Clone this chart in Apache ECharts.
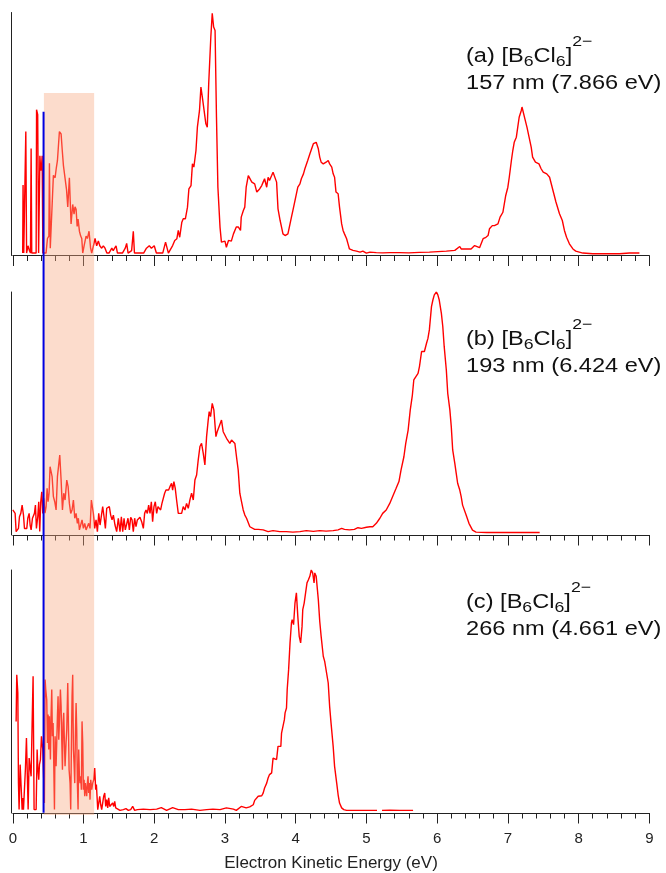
<!DOCTYPE html>
<html>
<head>
<meta charset="utf-8">
<script src="https://cdn.jsdelivr.net/npm/echarts@6/dist/echarts.min.js"></script>
<style>
  html, body { margin: 0; padding: 0; background: #fff; }
  #chart { width: 666px; height: 873px; }
</style>
</head>
<body>
<div id="chart"></div>
<script>
// [eKE (eV), intensity (% of panel max)]
const panelA = [[0.14,1],[0.145,29],[0.155,1],[0.175,1],[0.184,51],[0.195,1],[0.215,4],[0.235,2],[0.25,1],[0.259,44],[0.268,1],[0.33,1],[0.336,60],[0.352,58],[0.365,1],[0.383,41],[0.395,35],[0.405,36],[0.415,41],[0.425,1],[0.47,1],[0.49,7],[0.51,8],[0.518,38],[0.53,3],[0.55,3],[0.574,33],[0.598,32],[0.615,36],[0.631,39],[0.659,51],[0.683,50],[0.7,43],[0.716,37],[0.739,37],[0.76,27],[0.777,20],[0.8,32],[0.824,13],[0.847,21],[0.866,17],[0.88,20],[0.895,19],[0.91,12],[0.923,15],[0.942,10],[0.96,8],[0.975,7],[0.989,1],[1.008,4],[1.036,8],[1.055,7],[1.078,10],[1.1,3],[1.116,1],[1.14,4],[1.163,7],[1.186,4],[1.21,6],[1.23,4],[1.257,3],[1.28,4],[1.304,3],[1.33,1],[1.36,1],[1.4,3],[1.42,2],[1.44,3],[1.46,4],[1.48,1],[1.55,1],[1.59,3],[1.61,5],[1.63,1],[1.68,2],[1.704,10],[1.72,1],[1.85,1],[1.89,3],[1.93,4],[1.96,3],[2.0,4],[2.03,1],[2.08,1],[2.12,1],[2.16,5.5],[2.2,1],
  [2.222,0.7],[2.26,4.1],[2.29,6.2],[2.32,6.9],[2.34,10.3],[2.36,7.5],[2.39,13.7],[2.41,15.1],[2.44,15.1],[2.47,19.9],[2.49,27.4],[2.52,28.8],[2.54,37.7],[2.56,36.4],[2.59,43.2],[2.61,52.8],[2.64,59.7],[2.66,69.3],[2.68,65.2],[2.7,65.2],[2.73,54.2],[2.75,52.8],[2.77,70.7],[2.8,89.9],[2.82,99.7],[2.84,94],[2.86,92.6],[2.88,56.9],[2.9,28.1],[2.93,11.7],[2.95,5.5],[2.97,5.5],[3.0,5.9],[3.02,3.4],[3.05,6.2],[3.07,5.5],[3.09,5.9],[3.12,8.9],[3.14,8.2],[3.16,11.7],[3.19,11.7],[3.22,10.3],[3.23,15.8],[3.26,18.5],[3.28,19.9],[3.3,28.1],[3.33,32.9],[3.35,32.2],[3.38,30.2],[3.4,30.9],[3.42,29.5],[3.45,26.1],[3.47,25.4],[3.49,27.4],[3.52,28.8],[3.54,30.2],[3.56,31.6],[3.59,28.1],[3.61,32.2],[3.63,30.9],[3.66,32.9],[3.68,34.3],[3.7,33.6],[3.73,30.2],[3.75,19.2],[3.78,14.4],[3.8,11.7],[3.82,8.9],[3.85,8.2],[3.87,7.5],[3.89,8.9],[3.92,13],[3.94,15.8],[3.96,18.5],[3.99,22.6],[4.01,23.3],[4.03,28.1],[4.06,29.5],[4.08,31.6],[4.11,33.6],[4.13,35.7],[4.15,35],[4.17,39.1],[4.2,41.8],[4.22,42.5],[4.25,46],[4.27,46],[4.29,46.6],[4.32,43.9],[4.34,40.5],[4.36,38.4],[4.39,37.7],[4.41,37],[4.43,38.4],[4.46,39.1],[4.48,37.7],[4.51,36.4],[4.53,33.6],[4.55,32.2],[4.57,26.1],[4.6,25.4],[4.62,19.9],[4.65,13],[4.67,10.3],[4.69,8.9],[4.72,6.9],[4.74,4.8],[4.76,2.7],[4.81,2.1],[4.86,1.8],[4.91,1.4],[4.95,1.8],[5.0,1],[5.05,1.4],[5.14,1.2],[5.23,1.1],[5.33,1.2],[5.47,1.2],[5.6,1.1],[5.75,1.3],[5.89,1.4],[6.13,1.8],[6.25,2.1],[6.32,3.7],[6.34,2.7],[6.41,2.7],[6.48,2.7],[6.53,4.1],[6.55,3.7],[6.6,3.2],[6.65,6.9],[6.69,7.5],[6.72,8.2],[6.74,11],[6.78,12.3],[6.81,12.3],[6.86,13],[6.89,15.8],[6.93,17.8],[6.97,24.7],[7.0,28.1],[7.02,32.2],[7.05,39.1],[7.07,43.2],[7.09,46.6],[7.12,48.7],[7.14,52.8],[7.16,56.9],[7.19,59.7],[7.2,61.1],[7.22,60.4],[7.24,56.3],[7.27,52.8],[7.3,48.7],[7.33,44.6],[7.35,40.5],[7.39,38.4],[7.41,38.4],[7.44,37.7],[7.47,35.7],[7.5,34.3],[7.52,33.6],[7.55,33.6],[7.59,32.2],[7.62,28.8],[7.65,25.4],[7.68,22],[7.73,17.2],[7.77,14.4],[7.8,10.3],[7.83,7.5],[7.87,4.8],[7.92,2.7],[7.96,1.8],[8.06,1],[8.2,0.7],[8.39,0.7],[8.58,0.7],[8.72,1],[8.86,1]];

const panelB = [[0,10.3],[0.019,10.3],[0.033,8.9],[0.047,1.4],[0.066,1.4],[0.08,2.7],[0.094,7.5],[0.113,8.9],[0.132,12.3],[0.151,8.2],[0.165,2.7],[0.184,2.1],[0.198,2.7],[0.212,6.9],[0.231,8.9],[0.245,4.1],[0.259,2.1],[0.278,6.9],[0.292,7.5],[0.306,8.9],[0.32,12.3],[0.334,2.7],[0.353,7.5],[0.367,13.7],[0.381,1.4],[0.395,13.7],[0.41,17.8],[0.424,8.9],[0.438,15.1],[0.455,9],[0.471,11.7],[0.485,19.2],[0.499,13.7],[0.513,17.2],[0.527,28.1],[0.541,28.8],[0.556,24],[0.574,15.8],[0.593,13.7],[0.612,10.3],[0.631,24],[0.645,24.7],[0.664,32.9],[0.683,22.6],[0.702,10.3],[0.72,17.2],[0.739,14.4],[0.763,22.6],[0.782,19.9],[0.8,13],[0.819,8.9],[0.838,10.3],[0.857,14.4],[0.876,6.9],[0.895,8.9],[0.913,4.8],[0.927,6.9],[0.942,2.1],[0.96,2.7],[0.979,6.2],[0.998,2.7],[1.017,4.8],[1.036,2.1],[1.055,2.1],[1.073,4.8],[1.092,2.7],[1.111,14.4],[1.125,15.1],[1.139,8.9],[1.158,2.7],[1.177,6.2],[1.196,1.4],[1.215,8.9],[1.234,4.1],[1.252,3.4],[1.271,11.7],[1.29,7.5],[1.309,2.7],[1.328,11],[1.347,10.3],[1.365,11.7],[1.384,8.2],[1.403,6.2],[1.422,8.2],[1.445,4.1],[1.469,1.4],[1.492,6.9],[1.516,1.4],[1.535,7.5],[1.554,1.4],[1.573,6.9],[1.591,2.1],[1.61,1.4],[1.629,6.9],[1.648,2.1],[1.667,7.3],[1.686,6.2],[1.704,1.4],[1.723,6.9],[1.742,3.4],[1.761,6.2],[1.78,5.9],[1.798,7.3],[1.822,5.5],[1.846,2.7],[1.864,8.9],[1.883,10.3],[1.902,8.9],[1.921,12.3],[1.94,8.9],[1.959,13.7],[1.977,5.5],[1.996,11.7],[2.015,13.7],[2.034,8.9],[2.053,11.7],[2.072,11.7],[2.09,10.3],[2.109,13],[2.128,13.7],[2.147,17.2],[2.166,18.5],[2.185,19.2],[2.203,18.5],[2.222,19.9],
  [2.245,21.3],[2.26,18.5],[2.278,22],[2.297,19.2],[2.316,14.4],[2.34,8.9],[2.363,8.2],[2.387,8.9],[2.41,11.7],[2.434,10.3],[2.457,13],[2.481,11],[2.504,14.4],[2.528,17.2],[2.552,14.4],[2.575,22.6],[2.599,24.7],[2.622,30.9],[2.646,36.4],[2.669,37.7],[2.693,33.6],[2.716,28.8],[2.74,40.5],[2.763,47.3],[2.777,50.8],[2.796,48.7],[2.82,54.2],[2.843,51.5],[2.872,40.5],[2.89,42.5],[2.918,43.2],[2.951,47.3],[2.975,42.5],[2.998,41.8],[3.022,39.8],[3.046,39.1],[3.069,37.7],[3.093,39.1],[3.116,39.1],[3.14,37.7],[3.163,32.2],[3.187,26.8],[3.21,17.2],[3.234,13.7],[3.258,10.3],[3.281,8.2],[3.305,6.9],[3.328,6.2],[3.352,3.4],[3.375,2.7],[3.42,2.3],[3.47,2.3],[3.54,2.1],[3.61,1.4],[3.68,1.8],[3.775,1.4],[3.87,1.4],[3.96,1.2],[4.06,1.4],[4.15,1.8],[4.25,1.5],[4.34,1.8],[4.43,1.6],[4.53,1.8],[4.6,2.1],[4.65,2.7],[4.69,2.3],[4.76,2.1],[4.83,2.3],[4.88,3],[4.93,2.7],[5.0,3.2],[5.05,3.4],[5.09,3.4],[5.14,4.8],[5.19,6.9],[5.23,8.9],[5.28,10.3],[5.33,13],[5.38,16.5],[5.42,19.2],[5.46,22],[5.49,26.8],[5.53,32.2],[5.556,37.7],[5.59,43.2],[5.62,51.5],[5.65,57.6],[5.67,63.8],[5.7,65.2],[5.73,66.5],[5.75,69.3],[5.78,75.5],[5.8,76.1],[5.82,75.5],[5.85,78.9],[5.87,80.9],[5.89,84.4],[5.92,94],[5.94,96.7],[5.96,98.8],[5.99,100],[6.01,98.8],[6.03,96.7],[6.06,91.2],[6.08,85.8],[6.1,77.5],[6.13,67.9],[6.15,58.3],[6.18,51.5],[6.2,44.6],[6.22,35],[6.25,29.5],[6.27,25.4],[6.29,21.3],[6.32,18.5],[6.34,15.8],[6.36,12.3],[6.41,8.2],[6.45,4.8],[6.5,2],[6.55,1.2],[6.7,1],[6.9,1.1],[7.1,1],[7.3,1.1],[7.45,1]];

const panelC = [[0.047,37.7],[0.056,56.9],[0.071,49.4],[0.08,12.3],[0.089,1.4],[0.104,19.9],[0.118,20.6],[0.132,1.4],[0.141,6.2],[0.151,1.4],[0.165,1.4],[0.179,18.5],[0.193,30.9],[0.207,30.9],[0.217,1.4],[0.231,22.6],[0.245,22.6],[0.259,15.1],[0.273,36.4],[0.287,56.3],[0.301,1.4],[0.33,1.4],[0.344,26.1],[0.353,19.2],[0.367,13.7],[0.377,19.9],[0.391,22],[0.405,31.6],[0.414,31.6],[0.424,26.1],[0.447,4.1],[0.457,54.9],[0.466,50.8],[0.48,46.6],[0.49,28.8],[0.499,40.5],[0.508,26.1],[0.518,39.8],[0.532,22],[0.541,39.8],[0.551,50.8],[0.56,31.6],[0.57,37],[0.589,1.4],[0.598,31.6],[0.612,19.2],[0.621,28.8],[0.631,39.8],[0.64,48],[0.65,30.2],[0.659,37],[0.673,50.8],[0.683,43.9],[0.692,30.2],[0.702,17.8],[0.711,37],[0.72,41.2],[0.73,28.8],[0.739,19.2],[0.753,28.8],[0.763,34.3],[0.777,53.5],[0.786,37],[0.796,17.8],[0.81,12.3],[0.819,1.4],[0.829,28.8],[0.838,48],[0.847,56.9],[0.857,26.1],[0.866,20.6],[0.876,12.3],[0.885,31.6],[0.895,45.3],[0.904,34.3],[0.913,12.3],[0.923,1.4],[0.932,26.1],[0.942,15.1],[0.951,12.3],[0.96,15.1],[0.97,9.6],[0.979,37.7],[0.989,28.8],[0.998,9.6],[1.008,13.7],[1.017,6.9],[1.026,12.3],[1.036,9.6],[1.045,6.9],[1.055,12.3],[1.064,15.1],[1.073,8.2],[1.083,12.3],[1.092,5.5],[1.102,13.7],[1.116,9.6],[1.13,12.3],[1.144,13.7],[1.158,18.5],[1.172,9.6],[1.182,11.7],[1.191,6.9],[1.201,1.4],[1.215,4.1],[1.229,6.9],[1.243,3.4],[1.257,1.4],[1.271,4.1],[1.285,6.9],[1.3,8.2],[1.314,2.7],[1.328,5.5],[1.342,2.1],[1.356,6.2],[1.37,2.7],[1.384,3.4],[1.398,2.1],[1.412,4.1],[1.427,2.7],[1.441,4.8],[1.455,2.1],[1.478,1.4],[1.516,1.1],[1.563,1.4],[1.6,1.8],[1.634,1.1],[1.667,1.4],[1.695,2.7],[1.723,1.1],[1.761,1.4],[1.846,1.6],[1.94,1.4],[2.034,1.6],[2.1,2.2],[2.175,1.1],[2.26,2.2],[2.34,1.4],[2.434,1.4],[2.528,1.6],[2.646,1.1],[2.74,1.4],[2.83,1.6],[2.93,1.4],[3.02,2.1],[3.12,1.6],[3.16,1.1],[3.23,2.7],[3.3,2.1],[3.35,2.5],[3.4,3.4],[3.42,5.2],[3.47,6.9],[3.52,7.1],[3.54,8.2],[3.56,10.3],[3.59,12.3],[3.61,14.4],[3.63,15.8],[3.66,16.5],[3.68,22.6],[3.7,22.6],[3.73,22],[3.75,27.4],[3.775,28.1],[3.79,27.4],[3.8,32.9],[3.82,33.6],[3.84,38.4],[3.85,41.2],[3.87,43.2],[3.88,50.8],[3.9,59],[3.92,70],[3.94,78.2],[3.95,79.6],[3.97,77.5],[3.99,86.4],[4.01,90.6],[4.03,80.9],[4.05,72.7],[4.07,70],[4.09,76.8],[4.1,83.7],[4.12,86.4],[4.14,90.6],[4.16,94.7],[4.18,96],[4.2,97.4],[4.22,100],[4.24,98.8],[4.26,94.7],[4.27,98.8],[4.29,97.4],[4.32,87.8],[4.34,78.9],[4.36,72.7],[4.39,64.5],[4.41,62.4],[4.43,61.7],[4.46,53.5],[4.48,43.9],[4.5,37],[4.53,27.4],[4.55,19.2],[4.58,12.3],[4.6,7.5],[4.62,4.1],[4.65,2.1],[4.68,1.4],[4.72,1.1],[4.91,1.1],[5.09,1.1],[5.15,1.1],[5.18,null],[5.22,1.1],[5.33,1.2],[5.47,1.1],[5.66,1.1]];

// panel captions: first line (rich text), second line
const captionsTop = ['(a) [B{sub|6}Cl{sub|6}]{sup|2\u2212}', '(b) [B{sub|6}Cl{sub|6}]{sup|2\u2212}', '(c) [B{sub|6}Cl{sub|6}]{sup|2\u2212}'];
const captionsBottom = ['157 nm (7.866 eV)', '193 nm (6.424 eV)', '266 nm (4.661 eV)'];

// shaded window and cutoff line (eV); cutoff line vertical span as fraction of overlay height
const windowEV = [0.44, 1.15];
const cutoffEV = 0.435;
const cutoffSpan = [0.003, 0.974];

const FONT = '"Liberation Sans", Arial, sans-serif';
const gridLeft = 12.8;
const gridWidth = 636.5;
const panelTops = [12.5, 292, 570];
const panelHeight = 243;
const captionY = [[56, 83], [339, 366], [602.5, 629]];

const chart = echarts.init(document.getElementById('chart'));

const grids = panelTops.map(t => ({
  left: gridLeft, width: gridWidth, top: t, height: panelHeight,
  containLabel: false, outerBoundsMode: 'none'
}));
grids.push({ left: gridLeft, width: gridWidth, top: 93, height: 722, containLabel: false, outerBoundsMode: 'none' });

const xAxes = panelTops.map((t, i) => ({
  gridIndex: i,
  type: 'value',
  min: 0,
  max: 9,
  interval: 1,
  axisLine: { show: true, onZero: false, lineStyle: { color: '#222', width: 1 } },
  axisTick: { show: true, inside: false, length: 10.5, lineStyle: { color: '#222', width: 1 } },
  minorTick: { show: true, splitNumber: 5, length: 5.5, lineStyle: { color: '#222', width: 1 } },
  splitLine: { show: false },
  minorSplitLine: { show: false },
  axisLabel: {
    show: i === 2, margin: 18, fontSize: 15, color: '#222', fontFamily: FONT,
    showMinLabel: true, showMaxLabel: true
  },
  name: i === 2 ? 'Electron Kinetic Energy (eV)' : '',
  nameLocation: 'middle',
  nameGap: 42,
  nameTextStyle: { fontSize: 17, color: '#222', fontFamily: FONT }
}));
xAxes.push({ gridIndex: 3, type: 'value', min: 0, max: 9, show: false });

const yAxes = panelTops.map((t, i) => ({
  gridIndex: i,
  type: 'value',
  min: 0,
  max: 100,
  offset: 1.8,
  axisLine: { show: true, onZero: false, lineStyle: { color: '#222', width: 1 } },
  axisTick: { show: false },
  axisLabel: { show: false },
  splitLine: { show: false }
}));
yAxes.push({ gridIndex: 3, type: 'value', min: 0, max: 1, show: false });

const series = [panelA, panelB, panelC].map((d, i) => ({
  type: 'line',
  xAxisIndex: i,
  yAxisIndex: i,
  data: d.map(p => [p[0], p[1] === null ? '-' : p[1]]),
  symbol: 'none',
  showSymbol: false,
  connectNulls: false,
  lineStyle: { color: '#ff0000', width: 1.4 },
  itemStyle: { color: '#ff0000' },
  z: 2,
  animation: false
}));

series.push({
  type: 'line',
  xAxisIndex: 3,
  yAxisIndex: 3,
  data: [[cutoffEV, cutoffSpan[0]], [cutoffEV, cutoffSpan[1]]],
  symbol: 'none',
  lineStyle: { color: '#0000e0', width: 2 },
  z: 6,
  animation: false,
  markArea: {
    silent: true,
    z: 5,
    itemStyle: { color: 'rgba(248,168,128,0.4)' },
    data: [[{ xAxis: windowEV[0] }, { xAxis: windowEV[1] }]]
  }
});

// sub/superscripts are shifted with padding (text moves by half the padding)
const graphics = [];
captionsTop.forEach((txt, i) => {
  graphics.push({
    type: 'text', x: 466, y: captionY[i][0], scaleX: 1.18, z: 100,
    style: {
      legacy: false,
      text: txt,
      fontSize: 20,
      fontFamily: FONT,
      fill: '#111',
      align: 'left',
      verticalAlign: 'middle',
      lineHeight: 40,
      rich: {
        sub: { fontSize: 15, fontFamily: FONT, fill: '#111', verticalAlign: 'middle', padding: [11, 0, 0, 0] },
        sup: { fontSize: 15, fontFamily: FONT, fill: '#111', verticalAlign: 'middle', padding: [0, 0, 29, 0] }
      }
    }
  });
  graphics.push({
    type: 'text', x: 466, y: captionY[i][1], scaleX: 1.18, z: 100,
    style: {
      legacy: false,
      text: captionsBottom[i],
      fontSize: 20,
      fontFamily: FONT,
      fill: '#111',
      align: 'left',
      verticalAlign: 'middle'
    }
  });
});

chart.setOption({
  animation: false,
  backgroundColor: '#fff',
  grid: grids,
  xAxis: xAxes,
  yAxis: yAxes,
  series: series,
  graphic: graphics
});
</script>
</body>
</html>
